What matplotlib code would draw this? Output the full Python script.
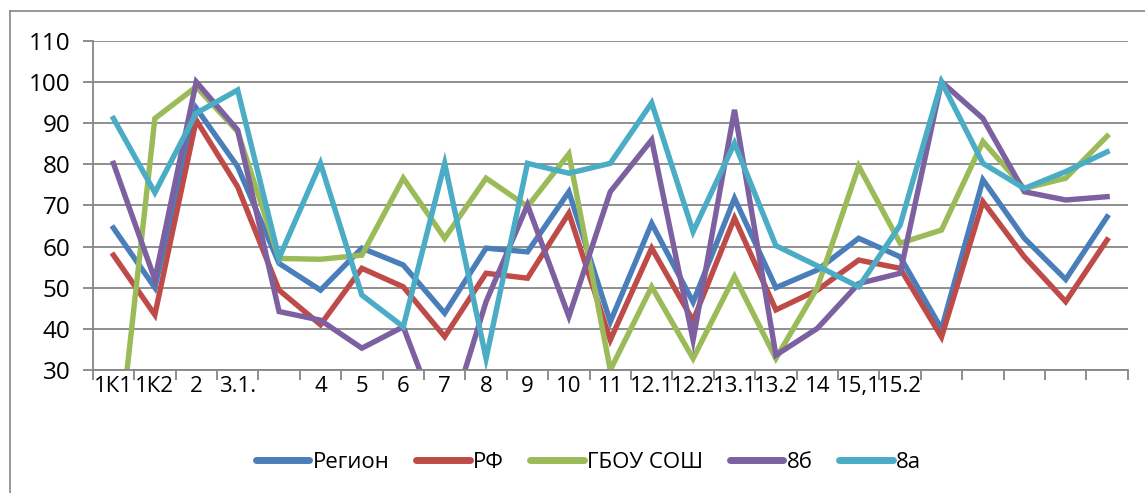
import matplotlib
matplotlib.use("Agg")
import matplotlib.pyplot as plt
from matplotlib.lines import Line2D
import numpy as np

plt.rcParams['font.family'] = ['Open Sans', 'DejaVu Sans']

# categories (last five have no label)
labels = ["1К1", "1К2", "2", "3.1.", "", "4", "5", "6", "7", "8", "9", "10", "11",
          "12.1", "12.2", "13.1", "13.2", "14", "15,1", "15.2", "", "", "", "", ""]

region = [64.5, 50, 93.6, 79.4, 55.9, 49.4, 59.6, 55.5, 43.8, 59.6, 58.7, 73.3, 41.7,
          65.6, 46.5, 71.7, 50, 54.3, 62, 57.5, 40, 76.2, 62, 52, 67.2]
rf = [57.9, 43.4, 90.7, 74.5, 49.4, 41, 54.7, 50.2, 38.1, 53.5, 52.3, 68.1, 37.3,
      59.6, 42, 66.9, 44.6, 49.4, 56.7, 54.7, 38, 70.9, 57.5, 46.6, 61.6]
gbou = [0, 91.1, 98.8, 87.9, 57.1, 56.9, 57.9, 76.6, 62, 76.6, 69.7, 82.5, 30,
        50.2, 32.8, 52.7, 32.8, 50, 79.5, 60.8, 64, 85.5, 74.1, 76.6, 86.8]
cls_8b = [80.2, 52, 100, 88.3, 44.2, 42.1, 35.3, 40.5, 14, 46.6, 70.1, 43, 73.3,
          85.9, 37.3, 93.2, 33.6, 40.1, 51, 53.5, 100, 91.1, 73.3, 71.3, 72.1]
cls_8a = [91.1, 73.1, 92.4, 98, 57.2, 80.2, 48.2, 40.5, 80.2, 32.8, 80.2, 77.8, 80.2,
          94.9, 63.6, 85.1, 60.2, 55.3, 50.2, 65.2, 100, 80.2, 74.1, 78.2, 83]

series = [("Регион", region, "#4A7EBB"),
          ("РФ", rf, "#BE4B48"),
          ("ГБОУ СОШ", gbou, "#9BBB59"),
          ("8б", cls_8b, "#7D60A0"),
          ("8а", cls_8a, "#4BACC6")]

fig = plt.figure(figsize=(11.45, 4.93), dpi=100)
ax = fig.add_axes([0.081, 0.2495, 0.904, 0.668])

x = np.arange(len(labels))
for name, vals, col in series:
    ax.plot(x, vals, color=col, lw=3.9, label=name, solid_joinstyle='miter')

grid_col = "#868686"
ax.set_xlim(-0.5, len(labels) - 0.5)
ax.set_ylim(30, 110)
ax.set_yticks(range(30, 111, 10))
ax.yaxis.grid(True, color=grid_col, lw=1.3)
ax.set_axisbelow(True)

# category boundaries carry the ticks, labels sit at centres
ax.set_xticks(np.arange(-0.5, len(labels)), minor=False)
ax.set_xticklabels([])
ax.set_xticks(x, minor=True)
ax.set_xticklabels(labels, minor=True, fontsize=16)
ax.tick_params(axis='x', which='minor', length=0, pad=4)
ax.tick_params(axis='x', which='major', length=7, color=grid_col, width=1.3)
ax.tick_params(axis='y', length=7, color=grid_col, width=1.3, labelsize=17.5, pad=9)

for s in ['top', 'right']:
    ax.spines[s].set_visible(False)
for s in ['left', 'bottom']:
    ax.spines[s].set_color(grid_col)
    ax.spines[s].set_linewidth(1.3)

leg = fig.legend(loc='center', bbox_to_anchor=(0.514, 0.062), ncol=5, frameon=False,
                 fontsize=16, handlelength=2.4, columnspacing=1.2, handletextpad=0.15)
for h in leg.get_lines():
    h.set_linewidth(5)
    h.set_solid_capstyle('round')

# chart frame
fig.add_artist(Line2D([10 / 1145, 10 / 1145], [0, 1 - 11 / 493], color=grid_col, lw=1.2))
fig.add_artist(Line2D([10 / 1145, 1], [1 - 11 / 493, 1 - 11 / 493], color=grid_col, lw=1.2))

fig.savefig("out.png", dpi=100)
